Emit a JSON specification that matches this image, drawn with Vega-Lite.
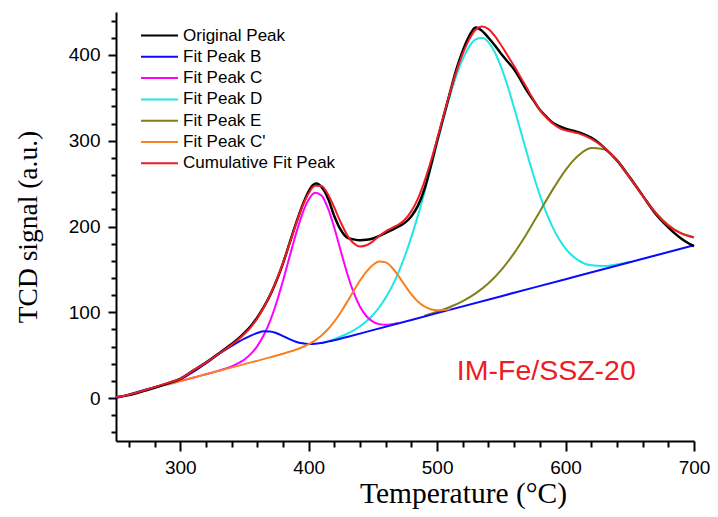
{
  "$schema": "https://vega.github.io/schema/vega-lite/v6.json",
  "width": 578,
  "height": 429,
  "autosize": {"type": "none"},
  "padding": {"left": 116, "top": 12, "right": 24, "bottom": 76},
  "background": "white",
  "config": {
    "view": {"stroke": null},
    "font": "Liberation Sans",
    "axis": {
      "grid": false,
      "domainColor": "black",
      "domainWidth": 2,
      "tickColor": "black",
      "tickWidth": 2,
      "labelColor": "black",
      "labelFont": "Liberation Sans",
      "labelFontSize": 19,
      "titleFont": "Liberation Serif",
      "titleFontWeight": "normal",
      "titleColor": "black"
    }
  },
  "data": {
    "values": [
      {"series": "Original Peak", "temp": 250, "signal": 1},
      {"series": "Original Peak", "temp": 260, "signal": 3.5},
      {"series": "Original Peak", "temp": 270, "signal": 7.5},
      {"series": "Original Peak", "temp": 280, "signal": 12},
      {"series": "Original Peak", "temp": 290, "signal": 17},
      {"series": "Original Peak", "temp": 300, "signal": 22.5},
      {"series": "Original Peak", "temp": 310, "signal": 32},
      {"series": "Original Peak", "temp": 320, "signal": 41.5},
      {"series": "Original Peak", "temp": 330, "signal": 52},
      {"series": "Original Peak", "temp": 340, "signal": 63},
      {"series": "Original Peak", "temp": 345, "signal": 69},
      {"series": "Original Peak", "temp": 350, "signal": 76},
      {"series": "Original Peak", "temp": 355, "signal": 84},
      {"series": "Original Peak", "temp": 360, "signal": 94},
      {"series": "Original Peak", "temp": 365, "signal": 106},
      {"series": "Original Peak", "temp": 370, "signal": 120},
      {"series": "Original Peak", "temp": 375, "signal": 137},
      {"series": "Original Peak", "temp": 380, "signal": 157},
      {"series": "Original Peak", "temp": 385, "signal": 180},
      {"series": "Original Peak", "temp": 390, "signal": 203},
      {"series": "Original Peak", "temp": 395, "signal": 224},
      {"series": "Original Peak", "temp": 400, "signal": 241},
      {"series": "Original Peak", "temp": 403, "signal": 248},
      {"series": "Original Peak", "temp": 406, "signal": 250},
      {"series": "Original Peak", "temp": 410, "signal": 246},
      {"series": "Original Peak", "temp": 415, "signal": 233},
      {"series": "Original Peak", "temp": 420, "signal": 212},
      {"series": "Original Peak", "temp": 425, "signal": 196},
      {"series": "Original Peak", "temp": 430, "signal": 187},
      {"series": "Original Peak", "temp": 435, "signal": 185},
      {"series": "Original Peak", "temp": 440, "signal": 184},
      {"series": "Original Peak", "temp": 445, "signal": 184.5},
      {"series": "Original Peak", "temp": 450, "signal": 186},
      {"series": "Original Peak", "temp": 455, "signal": 189},
      {"series": "Original Peak", "temp": 460, "signal": 192.5},
      {"series": "Original Peak", "temp": 465, "signal": 196},
      {"series": "Original Peak", "temp": 470, "signal": 200},
      {"series": "Original Peak", "temp": 475, "signal": 204.5},
      {"series": "Original Peak", "temp": 480, "signal": 212},
      {"series": "Original Peak", "temp": 485, "signal": 224},
      {"series": "Original Peak", "temp": 490, "signal": 243},
      {"series": "Original Peak", "temp": 495, "signal": 270},
      {"series": "Original Peak", "temp": 500, "signal": 300},
      {"series": "Original Peak", "temp": 505, "signal": 328},
      {"series": "Original Peak", "temp": 510, "signal": 356},
      {"series": "Original Peak", "temp": 515, "signal": 383},
      {"series": "Original Peak", "temp": 520, "signal": 405},
      {"series": "Original Peak", "temp": 525, "signal": 422},
      {"series": "Original Peak", "temp": 530, "signal": 432},
      {"series": "Original Peak", "temp": 535, "signal": 428},
      {"series": "Original Peak", "temp": 540, "signal": 420},
      {"series": "Original Peak", "temp": 545, "signal": 411},
      {"series": "Original Peak", "temp": 550, "signal": 401},
      {"series": "Original Peak", "temp": 555, "signal": 392},
      {"series": "Original Peak", "temp": 560, "signal": 383},
      {"series": "Original Peak", "temp": 565, "signal": 371},
      {"series": "Original Peak", "temp": 570, "signal": 358},
      {"series": "Original Peak", "temp": 575, "signal": 347},
      {"series": "Original Peak", "temp": 580, "signal": 336},
      {"series": "Original Peak", "temp": 585, "signal": 328},
      {"series": "Original Peak", "temp": 590, "signal": 321},
      {"series": "Original Peak", "temp": 595, "signal": 317},
      {"series": "Original Peak", "temp": 600, "signal": 314},
      {"series": "Original Peak", "temp": 605, "signal": 312},
      {"series": "Original Peak", "temp": 610, "signal": 310},
      {"series": "Original Peak", "temp": 615, "signal": 307},
      {"series": "Original Peak", "temp": 620, "signal": 303.5},
      {"series": "Original Peak", "temp": 630, "signal": 292},
      {"series": "Original Peak", "temp": 640, "signal": 277},
      {"series": "Original Peak", "temp": 650, "signal": 257},
      {"series": "Original Peak", "temp": 660, "signal": 236},
      {"series": "Original Peak", "temp": 670, "signal": 215},
      {"series": "Original Peak", "temp": 680, "signal": 199},
      {"series": "Original Peak", "temp": 685, "signal": 192},
      {"series": "Original Peak", "temp": 690, "signal": 186},
      {"series": "Original Peak", "temp": 695, "signal": 181},
      {"series": "Original Peak", "temp": 700, "signal": 177},

      {"series": "Fit Peak B", "temp": 250, "signal": 0.1},
      {"series": "Fit Peak B", "temp": 260, "signal": 4.2},
      {"series": "Fit Peak B", "temp": 270, "signal": 8.5},
      {"series": "Fit Peak B", "temp": 280, "signal": 12.8},
      {"series": "Fit Peak B", "temp": 290, "signal": 16.5},
      {"series": "Fit Peak B", "temp": 300, "signal": 21.5},
      {"series": "Fit Peak B", "temp": 310, "signal": 30.5},
      {"series": "Fit Peak B", "temp": 320, "signal": 40.5},
      {"series": "Fit Peak B", "temp": 330, "signal": 51.1},
      {"series": "Fit Peak B", "temp": 340, "signal": 60.7},
      {"series": "Fit Peak B", "temp": 345, "signal": 65.3},
      {"series": "Fit Peak B", "temp": 350, "signal": 69.4},
      {"series": "Fit Peak B", "temp": 355, "signal": 72.9},
      {"series": "Fit Peak B", "temp": 360, "signal": 75.8},
      {"series": "Fit Peak B", "temp": 365, "signal": 77.8},
      {"series": "Fit Peak B", "temp": 370, "signal": 77.7},
      {"series": "Fit Peak B", "temp": 375, "signal": 75.6},
      {"series": "Fit Peak B", "temp": 380, "signal": 72.3},
      {"series": "Fit Peak B", "temp": 385, "signal": 68.7},
      {"series": "Fit Peak B", "temp": 390, "signal": 65.7},
      {"series": "Fit Peak B", "temp": 395, "signal": 63.8},
      {"series": "Fit Peak B", "temp": 400, "signal": 63.1},
      {"series": "Fit Peak B", "temp": 405, "signal": 63.3},
      {"series": "Fit Peak B", "temp": 410, "signal": 64.3},
      {"series": "Fit Peak B", "temp": 415, "signal": 65.8},
      {"series": "Fit Peak B", "temp": 420, "signal": 67.5},
      {"series": "Fit Peak B", "temp": 430, "signal": 71.3},
      {"series": "Fit Peak B", "temp": 450, "signal": 79.2},
      {"series": "Fit Peak B", "temp": 500, "signal": 99},
      {"series": "Fit Peak B", "temp": 550, "signal": 118.8},
      {"series": "Fit Peak B", "temp": 600, "signal": 138.6},
      {"series": "Fit Peak B", "temp": 650, "signal": 158.4},
      {"series": "Fit Peak B", "temp": 700, "signal": 178.2},

      {"series": "Fit Peak C", "temp": 290, "signal": 15.8},
      {"series": "Fit Peak C", "temp": 310, "signal": 23.8},
      {"series": "Fit Peak C", "temp": 320, "signal": 27.8},
      {"series": "Fit Peak C", "temp": 330, "signal": 32},
      {"series": "Fit Peak C", "temp": 340, "signal": 37},
      {"series": "Fit Peak C", "temp": 345, "signal": 40.4},
      {"series": "Fit Peak C", "temp": 350, "signal": 45},
      {"series": "Fit Peak C", "temp": 355, "signal": 51.5},
      {"series": "Fit Peak C", "temp": 360, "signal": 60.6},
      {"series": "Fit Peak C", "temp": 365, "signal": 73.2},
      {"series": "Fit Peak C", "temp": 370, "signal": 90.1},
      {"series": "Fit Peak C", "temp": 375, "signal": 111.5},
      {"series": "Fit Peak C", "temp": 380, "signal": 136.7},
      {"series": "Fit Peak C", "temp": 385, "signal": 164},
      {"series": "Fit Peak C", "temp": 390, "signal": 190.9},
      {"series": "Fit Peak C", "temp": 395, "signal": 214.5},
      {"series": "Fit Peak C", "temp": 400, "signal": 231.4},
      {"series": "Fit Peak C", "temp": 405, "signal": 239.4},
      {"series": "Fit Peak C", "temp": 410, "signal": 236.2},
      {"series": "Fit Peak C", "temp": 415, "signal": 221.3},
      {"series": "Fit Peak C", "temp": 420, "signal": 198.2},
      {"series": "Fit Peak C", "temp": 425, "signal": 171.4},
      {"series": "Fit Peak C", "temp": 430, "signal": 145.3},
      {"series": "Fit Peak C", "temp": 435, "signal": 123.2},
      {"series": "Fit Peak C", "temp": 440, "signal": 106.5},
      {"series": "Fit Peak C", "temp": 445, "signal": 95.4},
      {"series": "Fit Peak C", "temp": 450, "signal": 89.1},
      {"series": "Fit Peak C", "temp": 455, "signal": 86.2},
      {"series": "Fit Peak C", "temp": 460, "signal": 85.5},
      {"series": "Fit Peak C", "temp": 465, "signal": 86.2},
      {"series": "Fit Peak C", "temp": 470, "signal": 87.5},

      {"series": "Fit Peak D", "temp": 410, "signal": 63.9},
      {"series": "Fit Peak D", "temp": 420, "signal": 68.8},
      {"series": "Fit Peak D", "temp": 430, "signal": 75},
      {"series": "Fit Peak D", "temp": 435, "signal": 78.9},
      {"series": "Fit Peak D", "temp": 440, "signal": 83.7},
      {"series": "Fit Peak D", "temp": 445, "signal": 89.6},
      {"series": "Fit Peak D", "temp": 450, "signal": 96.8},
      {"series": "Fit Peak D", "temp": 455, "signal": 105.9},
      {"series": "Fit Peak D", "temp": 460, "signal": 117.1},
      {"series": "Fit Peak D", "temp": 465, "signal": 130.5},
      {"series": "Fit Peak D", "temp": 470, "signal": 146.8},
      {"series": "Fit Peak D", "temp": 475, "signal": 165.9},
      {"series": "Fit Peak D", "temp": 480, "signal": 187.9},
      {"series": "Fit Peak D", "temp": 485, "signal": 212.4},
      {"series": "Fit Peak D", "temp": 490, "signal": 239.2},
      {"series": "Fit Peak D", "temp": 495, "signal": 267.6},
      {"series": "Fit Peak D", "temp": 500, "signal": 296.6},
      {"series": "Fit Peak D", "temp": 505, "signal": 325.2},
      {"series": "Fit Peak D", "temp": 510, "signal": 352},
      {"series": "Fit Peak D", "temp": 515, "signal": 375.7},
      {"series": "Fit Peak D", "temp": 520, "signal": 395.3},
      {"series": "Fit Peak D", "temp": 525, "signal": 409.7},
      {"series": "Fit Peak D", "temp": 530, "signal": 418.1},
      {"series": "Fit Peak D", "temp": 535, "signal": 420},
      {"series": "Fit Peak D", "temp": 540, "signal": 414.7},
      {"series": "Fit Peak D", "temp": 545, "signal": 402.8},
      {"series": "Fit Peak D", "temp": 550, "signal": 385.2},
      {"series": "Fit Peak D", "temp": 555, "signal": 363.2},
      {"series": "Fit Peak D", "temp": 560, "signal": 338.1},
      {"series": "Fit Peak D", "temp": 565, "signal": 311.5},
      {"series": "Fit Peak D", "temp": 570, "signal": 285},
      {"series": "Fit Peak D", "temp": 575, "signal": 259.7},
      {"series": "Fit Peak D", "temp": 580, "signal": 236.6},
      {"series": "Fit Peak D", "temp": 585, "signal": 216.3},
      {"series": "Fit Peak D", "temp": 590, "signal": 199},
      {"series": "Fit Peak D", "temp": 595, "signal": 185.1},
      {"series": "Fit Peak D", "temp": 600, "signal": 174.2},
      {"series": "Fit Peak D", "temp": 610, "signal": 160.5},
      {"series": "Fit Peak D", "temp": 620, "signal": 154.7},
      {"series": "Fit Peak D", "temp": 630, "signal": 153.9},
      {"series": "Fit Peak D", "temp": 640, "signal": 155.7},
      {"series": "Fit Peak D", "temp": 650, "signal": 158.9},

      {"series": "Fit Peak E", "temp": 490, "signal": 95.8},
      {"series": "Fit Peak E", "temp": 500, "signal": 100.6},
      {"series": "Fit Peak E", "temp": 510, "signal": 106.2},
      {"series": "Fit Peak E", "temp": 520, "signal": 113.1},
      {"series": "Fit Peak E", "temp": 530, "signal": 122.1},
      {"series": "Fit Peak E", "temp": 540, "signal": 133.9},
      {"series": "Fit Peak E", "temp": 550, "signal": 149.5},
      {"series": "Fit Peak E", "temp": 560, "signal": 169},
      {"series": "Fit Peak E", "temp": 570, "signal": 192.1},
      {"series": "Fit Peak E", "temp": 580, "signal": 217.6},
      {"series": "Fit Peak E", "temp": 590, "signal": 243},
      {"series": "Fit Peak E", "temp": 600, "signal": 265.8},
      {"series": "Fit Peak E", "temp": 610, "signal": 282.7},
      {"series": "Fit Peak E", "temp": 620, "signal": 291.5},
      {"series": "Fit Peak E", "temp": 630, "signal": 289.9},
      {"series": "Fit Peak E", "temp": 640, "signal": 277.4},
      {"series": "Fit Peak E", "temp": 650, "signal": 257.9},
      {"series": "Fit Peak E", "temp": 660, "signal": 236.2},
      {"series": "Fit Peak E", "temp": 670, "signal": 216.5},
      {"series": "Fit Peak E", "temp": 680, "signal": 201.7},
      {"series": "Fit Peak E", "temp": 690, "signal": 192.1},
      {"series": "Fit Peak E", "temp": 700, "signal": 187.6},

      {"series": "Fit Peak C'", "temp": 290, "signal": 15.8},
      {"series": "Fit Peak C'", "temp": 300, "signal": 19.8},
      {"series": "Fit Peak C'", "temp": 350, "signal": 39.6},
      {"series": "Fit Peak C'", "temp": 370, "signal": 47.5},
      {"series": "Fit Peak C'", "temp": 380, "signal": 51.7},
      {"series": "Fit Peak C'", "temp": 385, "signal": 54},
      {"series": "Fit Peak C'", "temp": 390, "signal": 56.4},
      {"series": "Fit Peak C'", "temp": 395, "signal": 59.3},
      {"series": "Fit Peak C'", "temp": 400, "signal": 62.8},
      {"series": "Fit Peak C'", "temp": 405, "signal": 67.3},
      {"series": "Fit Peak C'", "temp": 410, "signal": 73},
      {"series": "Fit Peak C'", "temp": 415, "signal": 80.2},
      {"series": "Fit Peak C'", "temp": 420, "signal": 89.3},
      {"series": "Fit Peak C'", "temp": 425, "signal": 100.1},
      {"series": "Fit Peak C'", "temp": 430, "signal": 112.2},
      {"series": "Fit Peak C'", "temp": 435, "signal": 124.9},
      {"series": "Fit Peak C'", "temp": 440, "signal": 137},
      {"series": "Fit Peak C'", "temp": 445, "signal": 147.5},
      {"series": "Fit Peak C'", "temp": 450, "signal": 155.2},
      {"series": "Fit Peak C'", "temp": 455, "signal": 159.2},
      {"series": "Fit Peak C'", "temp": 460, "signal": 158.2},
      {"series": "Fit Peak C'", "temp": 465, "signal": 151.9},
      {"series": "Fit Peak C'", "temp": 470, "signal": 142.2},
      {"series": "Fit Peak C'", "temp": 475, "signal": 131.2},
      {"series": "Fit Peak C'", "temp": 480, "signal": 120.8},
      {"series": "Fit Peak C'", "temp": 485, "signal": 112.5},
      {"series": "Fit Peak C'", "temp": 490, "signal": 106.8},
      {"series": "Fit Peak C'", "temp": 495, "signal": 103.6},
      {"series": "Fit Peak C'", "temp": 500, "signal": 102.4},
      {"series": "Fit Peak C'", "temp": 505, "signal": 102.6},
      {"series": "Fit Peak C'", "temp": 510, "signal": 103.7},

      {"series": "Cumulative Fit Peak", "temp": 250, "signal": 1},
      {"series": "Cumulative Fit Peak", "temp": 260, "signal": 4},
      {"series": "Cumulative Fit Peak", "temp": 270, "signal": 8.2},
      {"series": "Cumulative Fit Peak", "temp": 280, "signal": 12.8},
      {"series": "Cumulative Fit Peak", "temp": 290, "signal": 17.5},
      {"series": "Cumulative Fit Peak", "temp": 300, "signal": 22.5},
      {"series": "Cumulative Fit Peak", "temp": 310, "signal": 32},
      {"series": "Cumulative Fit Peak", "temp": 320, "signal": 41.4},
      {"series": "Cumulative Fit Peak", "temp": 330, "signal": 51.4},
      {"series": "Cumulative Fit Peak", "temp": 340, "signal": 62.1},
      {"series": "Cumulative Fit Peak", "temp": 345, "signal": 68.1},
      {"series": "Cumulative Fit Peak", "temp": 350, "signal": 74.8},
      {"series": "Cumulative Fit Peak", "temp": 355, "signal": 82.8},
      {"series": "Cumulative Fit Peak", "temp": 360, "signal": 92.8},
      {"series": "Cumulative Fit Peak", "temp": 365, "signal": 105.5},
      {"series": "Cumulative Fit Peak", "temp": 370, "signal": 120.4},
      {"series": "Cumulative Fit Peak", "temp": 375, "signal": 137.7},
      {"series": "Cumulative Fit Peak", "temp": 380, "signal": 157.7},
      {"series": "Cumulative Fit Peak", "temp": 385, "signal": 179.7},
      {"series": "Cumulative Fit Peak", "temp": 390, "signal": 202.2},
      {"series": "Cumulative Fit Peak", "temp": 395, "signal": 222.8},
      {"series": "Cumulative Fit Peak", "temp": 400, "signal": 238.7},
      {"series": "Cumulative Fit Peak", "temp": 405, "signal": 247.5},
      {"series": "Cumulative Fit Peak", "temp": 410, "signal": 247.3},
      {"series": "Cumulative Fit Peak", "temp": 415, "signal": 237.6},
      {"series": "Cumulative Fit Peak", "temp": 420, "signal": 221.9},
      {"series": "Cumulative Fit Peak", "temp": 425, "signal": 204.7},
      {"series": "Cumulative Fit Peak", "temp": 430, "signal": 189.9},
      {"series": "Cumulative Fit Peak", "temp": 435, "signal": 180.4},
      {"series": "Cumulative Fit Peak", "temp": 440, "signal": 176.8},
      {"series": "Cumulative Fit Peak", "temp": 445, "signal": 178.1},
      {"series": "Cumulative Fit Peak", "temp": 450, "signal": 182.7},
      {"series": "Cumulative Fit Peak", "temp": 455, "signal": 188.9},
      {"series": "Cumulative Fit Peak", "temp": 460, "signal": 194.4},
      {"series": "Cumulative Fit Peak", "temp": 465, "signal": 198.4},
      {"series": "Cumulative Fit Peak", "temp": 470, "signal": 202.3},
      {"series": "Cumulative Fit Peak", "temp": 475, "signal": 208.2},
      {"series": "Cumulative Fit Peak", "temp": 480, "signal": 217.9},
      {"series": "Cumulative Fit Peak", "temp": 485, "signal": 232.3},
      {"series": "Cumulative Fit Peak", "temp": 490, "signal": 251.8},
      {"series": "Cumulative Fit Peak", "temp": 495, "signal": 275.3},
      {"series": "Cumulative Fit Peak", "temp": 500, "signal": 301.6},
      {"series": "Cumulative Fit Peak", "temp": 505, "signal": 329},
      {"series": "Cumulative Fit Peak", "temp": 510, "signal": 355.9},
      {"series": "Cumulative Fit Peak", "temp": 515, "signal": 380.5},
      {"series": "Cumulative Fit Peak", "temp": 520, "signal": 401.6},
      {"series": "Cumulative Fit Peak", "temp": 525, "signal": 418.1},
      {"series": "Cumulative Fit Peak", "temp": 530, "signal": 429.3},
      {"series": "Cumulative Fit Peak", "temp": 535, "signal": 433},
      {"series": "Cumulative Fit Peak", "temp": 540, "signal": 430},
      {"series": "Cumulative Fit Peak", "temp": 545, "signal": 422},
      {"series": "Cumulative Fit Peak", "temp": 550, "signal": 411},
      {"series": "Cumulative Fit Peak", "temp": 555, "signal": 399},
      {"series": "Cumulative Fit Peak", "temp": 560, "signal": 387},
      {"series": "Cumulative Fit Peak", "temp": 565, "signal": 374},
      {"series": "Cumulative Fit Peak", "temp": 570, "signal": 361},
      {"series": "Cumulative Fit Peak", "temp": 575, "signal": 348},
      {"series": "Cumulative Fit Peak", "temp": 580, "signal": 336},
      {"series": "Cumulative Fit Peak", "temp": 585, "signal": 327},
      {"series": "Cumulative Fit Peak", "temp": 590, "signal": 320},
      {"series": "Cumulative Fit Peak", "temp": 595, "signal": 315},
      {"series": "Cumulative Fit Peak", "temp": 600, "signal": 312},
      {"series": "Cumulative Fit Peak", "temp": 605, "signal": 310.5},
      {"series": "Cumulative Fit Peak", "temp": 610, "signal": 308.5},
      {"series": "Cumulative Fit Peak", "temp": 620, "signal": 302},
      {"series": "Cumulative Fit Peak", "temp": 630, "signal": 292},
      {"series": "Cumulative Fit Peak", "temp": 640, "signal": 277},
      {"series": "Cumulative Fit Peak", "temp": 650, "signal": 257},
      {"series": "Cumulative Fit Peak", "temp": 660, "signal": 236},
      {"series": "Cumulative Fit Peak", "temp": 670, "signal": 216},
      {"series": "Cumulative Fit Peak", "temp": 680, "signal": 201},
      {"series": "Cumulative Fit Peak", "temp": 690, "signal": 192},
      {"series": "Cumulative Fit Peak", "temp": 700, "signal": 187}
    ]
  },
  "encoding": {
    "x": {"field": "temp", "type": "quantitative", "scale": {"domain": [250, 700], "nice": false, "zero": false}, "axis": null},
    "y": {"field": "signal", "type": "quantitative", "scale": {"domain": [-50, 450], "nice": false, "zero": false}, "axis": null},
    "color": {
      "field": "series",
      "type": "nominal",
      "scale": {
        "domain": ["Original Peak", "Fit Peak B", "Fit Peak C", "Fit Peak D", "Fit Peak E", "Fit Peak C'", "Cumulative Fit Peak"],
        "range": ["#000000", "#0a0aff", "#ff00ff", "#20e6e6", "#80801a", "#f7801f", "#ee1c24"]
      },
      "legend": {
        "orient": "none",
        "legendX": 33,
        "legendY": 13,
        "title": null,
        "padding": 0,
        "symbolType": "M-2,0L2,0",
        "symbolSize": 342,
        "symbolStrokeWidth": 2,
        "labelFont": "Liberation Sans",
        "labelFontSize": 17,
        "labelColor": "black",
        "labelOffset": 13,
        "rowPadding": 2.3
      }
    }
  },
  "layer": [
    {
      "transform": [{"filter": {"field": "series", "equal": "Fit Peak D"}}],
      "mark": {"type": "line", "interpolate": "monotone", "strokeWidth": 2},
      "encoding": {
        "x": {
          "field": "temp", "type": "quantitative",
          "scale": {"domain": [250, 700], "nice": false, "zero": false},
          "axis": {"orient": "bottom", "values": [300, 400, 500, 600, 700], "tickSize": 10, "labelPadding": 7, "labelFlush": false,
                   "title": "Temperature (°C)", "titleFontSize": 29.5, "titleX": 347, "titleY": 61, "titleBaseline": "alphabetic"}
        },
        "y": {
          "field": "signal", "type": "quantitative",
          "scale": {"domain": [-50, 450], "nice": false, "zero": false},
          "axis": {"orient": "left", "values": [0, 100, 200, 300, 400], "tickSize": 8, "labelPadding": 8, "labelFlush": false,
                   "title": "TCD signal (a.u.)", "titleFontSize": 27.5, "titleX": -80, "titleBaseline": "alphabetic"}
        }
      }
    },
    {
      "transform": [{"filter": {"field": "series", "equal": "Fit Peak E"}}],
      "mark": {"type": "line", "interpolate": "monotone", "strokeWidth": 2},
      "encoding": {
        "x": {
          "field": "temp", "type": "quantitative",
          "scale": {"domain": [250, 700], "nice": false, "zero": false},
          "axis": {"orient": "bottom", "values": [260, 280, 320, 340, 360, 380, 420, 440, 460, 480, 520, 540, 560, 580, 620, 640, 660, 680], "tickSize": 6, "labels": false, "domain": false, "title": null}
        },
        "y": {
          "field": "signal", "type": "quantitative",
          "scale": {"domain": [-50, 450], "nice": false, "zero": false},
          "axis": {"orient": "left", "values": [-40, -20, 20, 40, 60, 80, 120, 140, 160, 180, 220, 240, 260, 280, 320, 340, 360, 380, 420, 440], "tickSize": 5, "labels": false, "domain": false, "title": null}
        }
      }
    },
    {
      "transform": [{"filter": {"field": "series", "equal": "Fit Peak C"}}],
      "mark": {"type": "line", "interpolate": "monotone", "strokeWidth": 2}
    },
    {
      "transform": [{"filter": {"field": "series", "equal": "Fit Peak B"}}],
      "mark": {"type": "line", "interpolate": "monotone", "strokeWidth": 2}
    },
    {
      "transform": [{"filter": {"field": "series", "equal": "Fit Peak C'"}}],
      "mark": {"type": "line", "interpolate": "monotone", "strokeWidth": 2}
    },
    {
      "transform": [{"filter": {"field": "series", "equal": "Original Peak"}}],
      "mark": {"type": "line", "interpolate": "monotone", "strokeWidth": 2.5}
    },
    {
      "transform": [{"filter": {"field": "series", "equal": "Cumulative Fit Peak"}}],
      "mark": {"type": "line", "interpolate": "monotone", "strokeWidth": 2}
    },
    {
      "data": {"values": [{"temp": 585, "signal": 32, "label": "IM-Fe/SSZ-20"}]},
      "mark": {"type": "text", "font": "Liberation Sans", "fontSize": 28.5, "align": "center", "baseline": "middle"},
      "encoding": {
        "text": {"field": "label"},
        "color": {"value": "#ee1c24"}
      }
    }
  ],
  "resolve": {"axis": {"x": "independent", "y": "independent"}}
}
